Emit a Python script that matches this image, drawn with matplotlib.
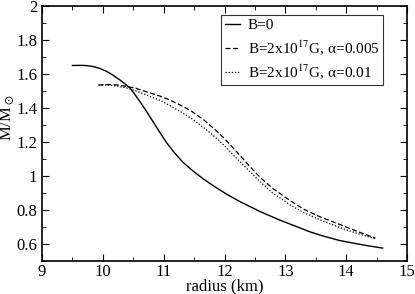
import matplotlib
matplotlib.use('Agg')
import matplotlib.pyplot as plt
from matplotlib.ticker import MultipleLocator

plt.rcParams['font.family'] = ['Liberation Serif', 'DejaVu Serif']
plt.rcParams['mathtext.fontset'] = 'stix'

# B=0
r_b0 = [9.5, 9.65, 9.75, 9.84, 9.95, 10.06, 10.17, 10.28, 10.37, 10.45, 10.53, 10.61,
        10.7, 10.78, 10.86, 10.94, 11.05, 11.18, 11.32, 11.48, 11.65, 11.87, 12.05,
        12.26, 12.59, 12.9, 13.13, 13.4, 13.62, 13.9, 14.12, 14.35, 14.6]
m_b0 = [1.65, 1.651, 1.649, 1.644, 1.633, 1.616, 1.592, 1.565, 1.54, 1.516, 1.478, 1.437,
        1.39, 1.345, 1.30, 1.255, 1.195, 1.135, 1.08, 1.03, 0.983, 0.93, 0.89,
        0.848, 0.79, 0.742, 0.71, 0.672, 0.647, 0.62, 0.605, 0.59, 0.576]

# B=2x10^17 G, alpha=0.005
r_a005 = [9.93, 10.1, 10.25, 10.39, 10.55, 10.78, 10.94, 11.1, 11.27, 11.45, 11.65,
          11.87, 12.0, 12.15, 12.42, 12.59, 12.8, 13.08, 13.3, 13.57, 13.8, 14.0,
          14.25, 14.48]
m_a005 = [1.535, 1.538, 1.535, 1.527, 1.515, 1.488, 1.47, 1.447, 1.418, 1.383, 1.333,
          1.265, 1.22, 1.162, 1.055, 0.99, 0.925, 0.855, 0.805, 0.76, 0.728, 0.70,
          0.665, 0.635]

# B=2x10^17 G, alpha=0.01
r_a01 = [9.93, 10.1, 10.25, 10.39, 10.55, 10.78, 10.94, 11.1, 11.27, 11.45, 11.65,
         11.87, 12.0, 12.15, 12.42, 12.59, 12.8, 13.08, 13.3, 13.57, 13.8, 14.0,
         14.25, 14.48]
m_a01 = [1.535, 1.535, 1.528, 1.518, 1.50, 1.467, 1.445, 1.415, 1.38, 1.34, 1.287,
         1.222, 1.177, 1.122, 1.025, 0.965, 0.898, 0.83, 0.785, 0.742, 0.71, 0.683,
         0.655, 0.63]

fig = plt.figure(figsize=(4.15, 2.94), dpi=100)
ax = fig.add_axes([42 / 415, 1 - 261 / 294, 365 / 415, 255 / 294])

ax.plot(r_b0, m_b0, color='black', lw=1.0, ls='-', label='B=0')
ax.plot(r_a005, m_a005, color='black', lw=0.9, ls=(0, (4, 2)),
        label='B=2x10$^{17}$G, α=0.005')
ax.plot(r_a01, m_a01, color='black', lw=0.9, ls=(0, (1, 1.5)),
        label='B=2x10$^{17}$G, α=0.01')

ax.set_xlim(9, 15)
ax.set_ylim(0.5, 2)
ax.xaxis.set_major_locator(MultipleLocator(1))
ax.xaxis.set_minor_locator(MultipleLocator(0.5))
ax.yaxis.set_minor_locator(MultipleLocator(0.1))
ax.set_yticks([0.6, 0.8, 1.0, 1.2, 1.4, 1.6, 1.8, 2.0])
ax.set_yticklabels(['0.6', '0.8', '1', '1.2', '1.4', '1.6', '1.8', '2'])
ax.tick_params(which='both', direction='in', top=True, right=True, labelsize=12)
ax.tick_params(which='major', length=5)
ax.tick_params(which='minor', length=3)
ax.tick_params(axis='x', pad=2)
for s in ax.spines.values():
    s.set_linewidth(1.2)

ax.set_xlabel('radius (km)', fontsize=12, labelpad=-1)
ax.set_ylabel(r'M/M$_\odot$', fontsize=12)
ax.yaxis.set_label_coords(-0.07, 0.56)

leg = ax.legend(loc='upper right', bbox_to_anchor=(0.935, 0.965), fontsize=11,
                frameon=True, fancybox=False, edgecolor='black', handlelength=1.0,
                borderpad=0.25, labelspacing=0.35, handletextpad=0.5, borderaxespad=0)
leg.get_frame().set_linewidth(0.8)

fig.savefig('out.png', dpi=100)
